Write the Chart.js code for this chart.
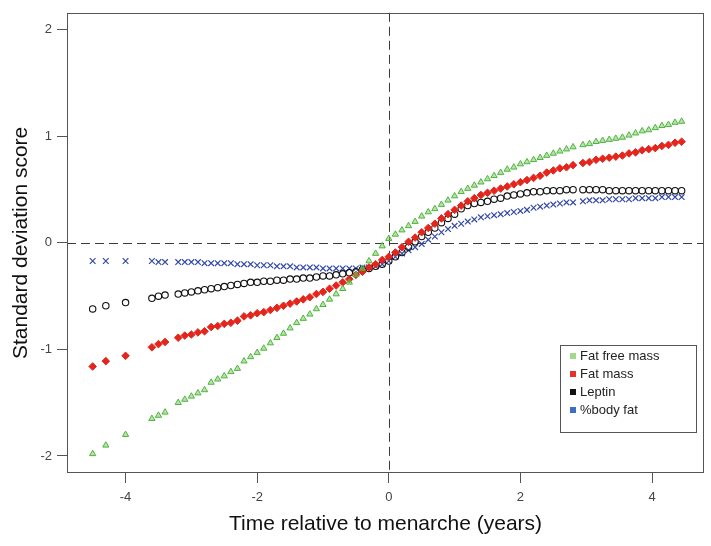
<!DOCTYPE html>
<html>
<head>
<meta charset="utf-8">
<script src="https://cdn.jsdelivr.net/npm/chart.js@4/dist/chart.umd.min.js"></script>
<style>
html,body{margin:0;padding:0;background:#fff;}
canvas{display:block;}
</style>
</head>
<body>
<canvas id="c" width="711" height="546"></canvas>
<script>
// ---- data ----
const seriesNames = ["Fat free mass", "Fat mass", "Leptin", "%body fat"];
const times = [-4.5,-4.3,-4.0,
  -3.6,-3.5,-3.4,
  -3.2,-3.1,-3.0,-2.9,-2.8,
  -2.7,-2.6,-2.5,-2.4,-2.3,
  -2.2,-2.1,-2.0,-1.9,-1.8,-1.7,-1.6,-1.5,-1.4,-1.3,-1.2,-1.1,-1.0,-0.9,-0.8,-0.7,-0.6,-0.5,-0.4,-0.3,-0.2,-0.1,
  0.0,0.1,0.2,0.3,0.4,0.5,0.6,0.7,0.8,0.9,1.0,1.1,1.2,1.3,1.4,1.5,1.6,1.7,1.8,1.9,2.0,2.1,2.2,2.3,2.4,2.5,
  2.6,2.7,2.8,
  2.95,3.05,3.15,3.25,3.35,3.45,3.55,
  3.65,3.75,3.85,3.95,4.05,4.15,4.25,4.35,4.45];
const fatFreeMass = [-1.98,-1.90,-1.80,
  -1.65,-1.62,-1.59,
  -1.50,-1.47,-1.44,-1.41,-1.38,
  -1.31,-1.28,-1.25,-1.21,-1.18,
  -1.11,-1.07,-1.03,-0.99,-0.94,-0.89,-0.85,-0.80,-0.75,-0.71,-0.67,-0.62,-0.58,-0.53,-0.48,-0.43,-0.37,-0.30,-0.24,-0.17,-0.10,-0.03,
  0.04,0.08,0.12,0.16,0.20,0.25,0.29,0.32,0.36,0.40,0.44,0.48,0.51,0.54,0.57,0.60,0.63,0.66,0.69,0.71,0.74,0.76,0.78,0.80,0.82,0.84,
  0.86,0.88,0.90,
  0.92,0.93,0.95,0.96,0.97,0.98,0.99,
  1.01,1.03,1.05,1.06,1.08,1.10,1.11,1.13,1.14];
const fatMass = [-1.16,-1.11,-1.06,
  -0.98,-0.95,-0.93,
  -0.89,-0.87,-0.86,-0.84,-0.83,
  -0.79,-0.78,-0.76,-0.75,-0.73,
  -0.69,-0.68,-0.66,-0.65,-0.63,-0.61,-0.59,-0.57,-0.55,-0.53,-0.51,-0.48,-0.46,-0.43,-0.40,-0.37,-0.34,-0.30,-0.27,-0.23,-0.20,-0.16,
  -0.13,-0.09,-0.04,0.01,0.05,0.10,0.14,0.18,0.23,0.27,0.31,0.35,0.39,0.42,0.45,0.47,0.49,0.51,0.53,0.55,0.57,0.59,0.61,0.63,0.66,0.68,
  0.70,0.71,0.73,
  0.75,0.76,0.78,0.79,0.80,0.81,0.82,
  0.84,0.85,0.87,0.88,0.89,0.91,0.92,0.94,0.95];
const leptin = [-0.62,-0.59,-0.56,
  -0.52,-0.50,-0.49,
  -0.48,-0.47,-0.46,-0.45,-0.44,
  -0.43,-0.42,-0.41,-0.40,-0.39,
  -0.38,-0.37,-0.37,-0.36,-0.36,-0.35,-0.35,-0.34,-0.34,-0.33,-0.33,-0.32,-0.31,-0.31,-0.30,-0.29,-0.28,-0.27,-0.25,-0.24,-0.22,-0.20,
  -0.17,-0.13,-0.09,-0.04,0.01,0.06,0.10,0.14,0.19,0.23,0.27,0.32,0.35,0.37,0.38,0.39,0.41,0.42,0.44,0.45,0.46,0.47,0.48,0.48,0.49,0.49,
  0.49,0.50,0.50,
  0.50,0.50,0.50,0.50,0.49,0.49,0.49,
  0.49,0.49,0.49,0.49,0.49,0.49,0.49,0.49,0.49];
const bodyFatPct = [-0.17,-0.17,-0.17,
  -0.17,-0.18,-0.18,
  -0.18,-0.18,-0.18,-0.18,-0.19,
  -0.19,-0.19,-0.19,-0.19,-0.20,
  -0.20,-0.20,-0.21,-0.21,-0.21,-0.22,-0.22,-0.22,-0.23,-0.23,-0.23,-0.23,-0.24,-0.24,-0.24,-0.24,-0.24,-0.24,-0.23,-0.23,-0.22,-0.20,
  -0.17,-0.13,-0.10,-0.07,-0.04,-0.01,0.03,0.06,0.10,0.13,0.16,0.18,0.20,0.22,0.24,0.25,0.26,0.27,0.28,0.29,0.30,0.31,0.33,0.34,0.35,0.36,
  0.37,0.38,0.38,
  0.39,0.40,0.40,0.40,0.41,0.41,0.41,
  0.41,0.42,0.42,0.42,0.42,0.43,0.43,0.43,0.43];
const xTicks = [-4,-2,0,2,4];
const yTicks = [-2,-1,0,1,2];
const xTitle = "Time relative to menarche (years)";
const yTitle = "Standard deviation score";

// ---- styling ----
const FONT = "'Liberation Sans', Arial, Helvetica, sans-serif";
const styles = [
  {style:'triangle', radius:3.6, border:'#4fb43e', fill:'rgba(120,205,95,0.55)', bw:1, legend:'#a3d98b'},
  {style:'rectRot', radius:3.8, border:'#e3251c', fill:'#e3251c', bw:1, legend:'#e8302a'},
  {style:'circle', radius:3.2, border:'#111111', fill:'rgba(0,0,0,0)', bw:1.1, legend:'#111111'},
  {style:'crossRot', radius:4, border:'#3349aa', fill:'#3349aa', bw:1.2, legend:'#3b70c4'}
];
const valueSets = [fatFreeMass, fatMass, leptin, bodyFatPct];

const datasets = seriesNames.map((name, i) => ({
  label: name,
  data: times.map((t, k) => ({x: t, y: valueSets[i][k]})),
  pointStyle: styles[i].style,
  pointRadius: styles[i].radius,
  pointBorderColor: styles[i].border,
  pointBackgroundColor: styles[i].fill,
  pointBorderWidth: styles[i].bw,
  showLine: false
}));

const framePlugin = {
  id: 'frame',
  beforeDatasetsDraw(chart) {
    const {ctx, chartArea: a, scales} = chart;
    const x0 = Math.round(scales.x.getPixelForValue(0)) + 0.5;
    const y0 = Math.round(scales.y.getPixelForValue(0)) + 0.5;
    ctx.save();
    ctx.strokeStyle = '#3a3a3a';
    ctx.lineWidth = 1;
    ctx.setLineDash([9, 5]);
    ctx.beginPath();
    ctx.moveTo(a.left, y0); ctx.lineTo(a.right, y0);
    ctx.moveTo(x0, a.top); ctx.lineTo(x0, a.bottom);
    ctx.stroke();
    ctx.restore();
  },
  afterDraw(chart) {
    const {ctx, chartArea: a} = chart;
    ctx.save();
    ctx.strokeStyle = '#555';
    ctx.lineWidth = 1;
    ctx.strokeRect(Math.round(a.left) + 0.5, Math.round(a.top) + 0.5,
                   Math.round(a.right - a.left) - 1, Math.round(a.bottom - a.top) - 1);
    // legend box
    const bx = 560.5, by = 345.5, bw = 136, bh = 87;
    ctx.strokeStyle = '#555';
    ctx.fillStyle = '#fff';
    ctx.fillRect(bx, by, bw, bh);
    ctx.strokeRect(bx, by, bw, bh);
    ctx.font = '13px ' + FONT;
    ctx.textBaseline = 'middle';
    seriesNames.forEach((name, i) => {
      const cy = 356 + i * 18;
      ctx.fillStyle = styles[i].legend;
      ctx.fillRect(570, cy - 3, 6, 6);
      ctx.fillStyle = '#222';
      ctx.fillText(name, 580, cy);
    });
    ctx.restore();
  }
};

new Chart(document.getElementById('c'), {
  type: 'scatter',
  data: {datasets},
  options: {
    responsive: false,
    animation: false,
    events: [],
    layout: {padding: {top: 7, right: 7, left: 0, bottom: 0}},
    plugins: {legend: {display: false}, tooltip: {enabled: false}},
    scales: {
      x: {
        type: 'linear', min: -4.89, max: 4.79,
        afterBuildTicks: s => { s.ticks = xTicks.map(v => ({value: v})); },
        afterFit: s => { s.height = 73; },
        border: {display: false},
        grid: {drawOnChartArea: false, drawTicks: true, tickLength: 10, tickColor: '#555', lineWidth: 1},
        ticks: {color: '#444', font: {family: FONT, size: 13}, padding: 7, maxRotation: 0},
        title: {display: true, text: xTitle, color: '#111', font: {family: FONT, size: 21}, padding: {top: 0, bottom: 9}}
      },
      y: {
        type: 'linear', min: -2.16, max: 2.16,
        afterBuildTicks: s => { s.ticks = yTicks.map(v => ({value: v})); },
        afterFit: s => { s.width = 67; },
        border: {display: false},
        grid: {drawOnChartArea: false, drawTicks: true, tickLength: 10, tickColor: '#555', lineWidth: 1},
        ticks: {color: '#444', font: {family: FONT, size: 13}, padding: 5},
        title: {display: true, text: yTitle, color: '#111', font: {family: FONT, size: 21}, padding: {top: 9, bottom: 0}}
      }
    }
  },
  plugins: [framePlugin]
});
</script>
</body>
</html>
